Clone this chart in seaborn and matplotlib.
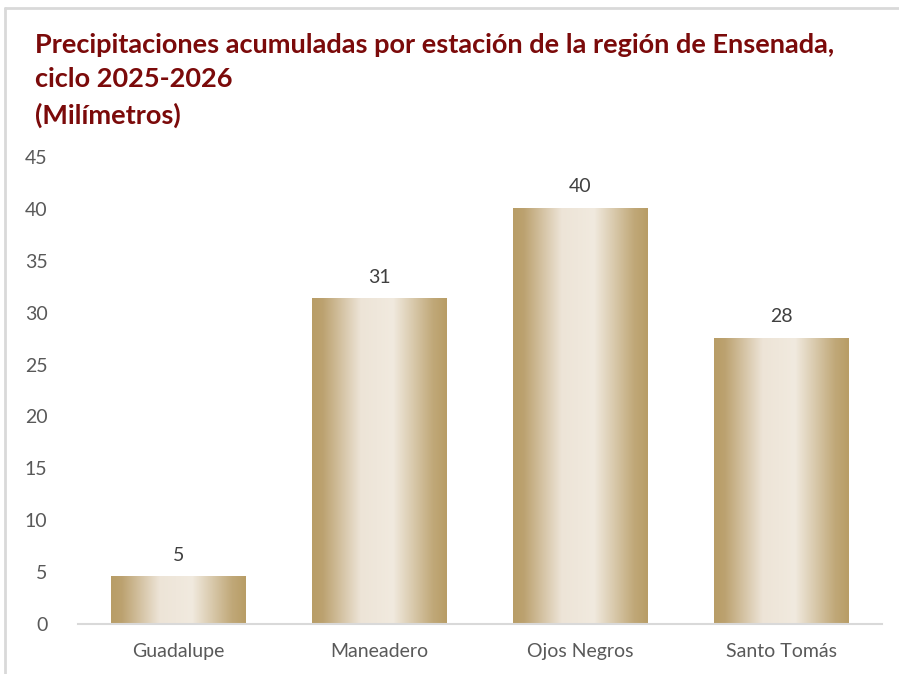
import seaborn as sns
import pandas as pd
import matplotlib.pyplot as plt
import numpy as np
from matplotlib.colors import LinearSegmentedColormap
from matplotlib.lines import Line2D

# Data
estaciones = ['Guadalupe', 'Maneadero', 'Ojos Negros', 'Santo Tomás']
precipitacion = [4.6, 31.4, 40.1, 27.6]
y_ticks = [0, 5, 10, 15, 20, 25, 30, 35, 40, 45]

df = pd.DataFrame({'Estacion': estaciones, 'mm': precipitacion})

sns.set_style('white')
plt.rcParams['font.family'] = ['Lato', 'DejaVu Sans']

fig = plt.figure(figsize=(8.99, 6.74), dpi=100)
ax = fig.add_axes([78 / 899, 50 / 674, (882 - 78) / 899, (624 - 157) / 674])

sns.barplot(x='Estacion', y='mm', data=df, color='#B89D66', width=0.67,
            saturation=1, ax=ax)

# Gradient fill for each bar (tan edges, cream centre)
grad = LinearSegmentedColormap.from_list(
    'oro', [(0, '#B89D66'), (0.08, '#BCA270'), (0.36, '#EDE4D7'),
            (0.6, '#F1EADF'), (0.9, '#C0A878'), (1, '#B89D66')])
strip = np.linspace(0, 1, 256).reshape(1, -1)
for bar in ax.patches:
    x0, y0 = bar.get_x(), bar.get_y()
    w, h = bar.get_width(), bar.get_height()
    im = ax.imshow(strip, cmap=grad, aspect='auto', extent=[x0, x0 + w, y0, y0 + h],
                   zorder=bar.get_zorder() + 0.1)
    im.set_clip_path(bar)

# Value labels
for i, v in enumerate(precipitacion):
    ax.text(i, v + 1.2, f'{v:.0f}', ha='center', va='bottom',
            fontsize=14, color='#404040')

ax.set_xlim(-0.5, 3.5)
ax.set_ylim(0, 45)
ax.set_yticks(y_ticks)
ax.set_xlabel('')
ax.set_ylabel('')
ax.tick_params(axis='both', length=0, labelsize=14, labelcolor='#595959')
ax.tick_params(axis='x', pad=14)
ax.tick_params(axis='y', pad=22)
for s in ['top', 'right', 'left']:
    ax.spines[s].set_visible(False)
ax.spines['bottom'].set_color('#D9D9D9')
ax.spines['bottom'].set_linewidth(1.5)

# Title
fig.text(35 / 899, 1 - 33 / 674,
         'Precipitaciones acumuladas por estación de la región de Ensenada,\n'
         'ciclo 2025-2026\n(Milímetros)',
         ha='left', va='top', fontsize=19.5, fontweight='bold',
         color='#7B0A0A', linespacing=1.52)

# Chart frame
fig.add_artist(Line2D([5 / 899, 1], [1 - 8 / 674, 1 - 8 / 674], color='#D9D9D9', lw=2))
fig.add_artist(Line2D([5 / 899, 5 / 899], [0, 1 - 8 / 674], color='#D9D9D9', lw=2))

plt.savefig('out.png', dpi=100)
